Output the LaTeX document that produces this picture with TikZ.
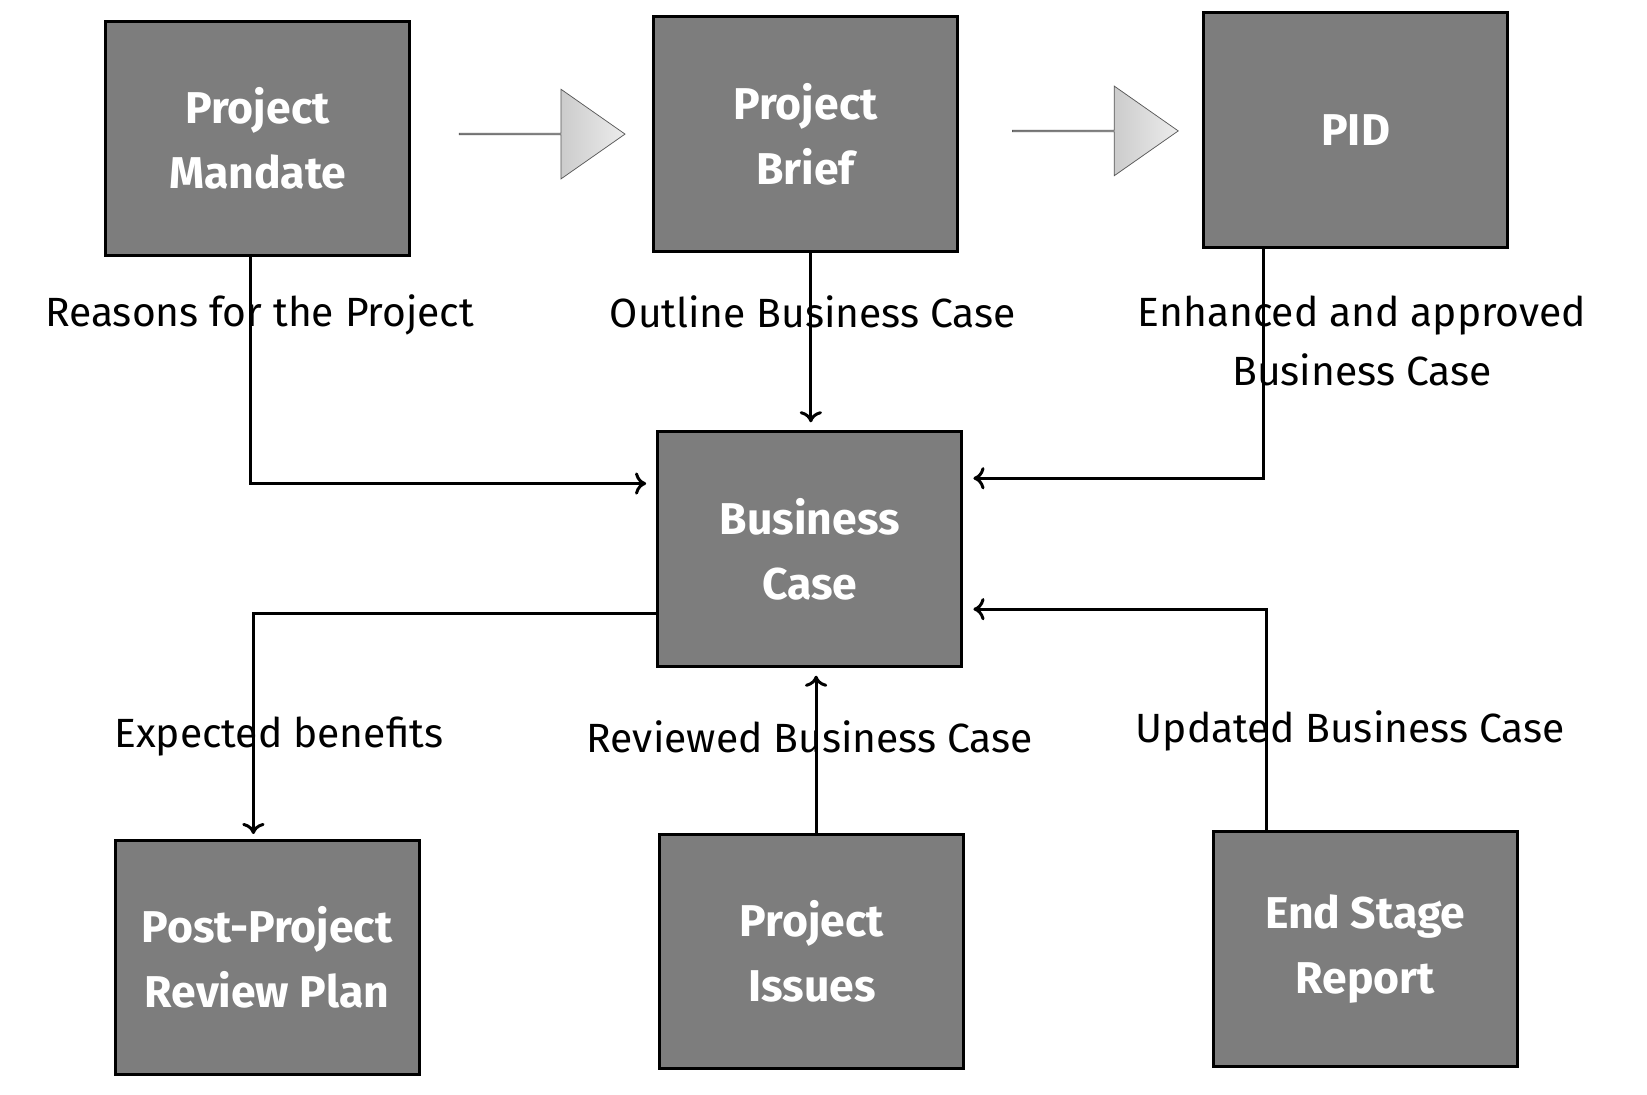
\documentclass[tikz,border=0pt]{standalone}
\usepackage{fontspec}
\setmainfont{Fira Sans}
\usetikzlibrary{positioning,arrows.meta,shapes.arrows}
\definecolor{boxgray}{RGB}{125,125,125}
\tikzset{
  docbox/.style={draw=black, line width=1.6pt, fill=boxgray, minimum width=5.76cm, minimum height=4.44cm,
    text=white, font=\fontsize{24}{35}\selectfont\bfseries, align=center},
  flowarrow/.style={single arrow, draw=gray!70!black, left color=gray!80, right color=gray!15,
    minimum height=3.14cm, minimum width=1.7cm, single arrow head extend=0.4cm, single arrow tip angle=70, inner sep=0pt},
  lbl/.style={font=\fontsize{22}{31.5}\selectfont, align=center, inner sep=0pt},
  link/.style={line width=1.6pt, -{To[length=6pt,width=12pt]}}
}
\begin{document}
\begin{tikzpicture}[x=0.02cm, y=-0.02cm]
  \useasboundingbox (0,0) rectangle (1560,1037);

  % boxes
  \node[docbox] (mandate) at (244,131) {Project\\Mandate};
  \node[docbox] (brief)   at (763,127) {Project\\Brief};
  \node[docbox] (pid)     at (1284,123) {PID};
  \node[docbox] (bcase)   at (767,520) {Business\\Case};
  \node[docbox] (review)  at (253,907) {Post-Project\\Review Plan};
  \node[docbox] (issues)  at (769,901) {Project\\Issues};
  \node[docbox] (endstage) at (1293,899) {End Stage\\Report};

  % block arrows
  \node[flowarrow] (arrA) at (513,127) {};
  \node[flowarrow] (arrB) at (1037,124) {};

  % connectors
  \coordinate (mTurn) at (237,458);
  \coordinate (bcIn1) at (612,458);
  \coordinate (bcIn2) at (922,453);
  \coordinate (pTurn) at (1197,453);
  \coordinate (bcIn3) at (922,577);
  \coordinate (eTurn) at (1200,577);
  \coordinate (bcOut) at (624,581);
  \coordinate (rTurn) at (240,581);
  \coordinate (rIn)   at (240,790);
  \draw[link] (mandate.south -| mTurn) -- (mTurn) -- (bcIn1);
  \draw[link] (brief.south -| 768,0) -- (768,400);
  \draw[link] (pid.south -| pTurn) -- (pTurn) -- (bcIn2);
  \draw[link] (bcOut) -- (rTurn) -- (rIn);
  \draw[link] (issues.north -| 773,0) -- (773,640);
  \draw[link] (endstage.north -| eTurn) -- (eTurn) -- (bcIn3);

  % labels
  \node[lbl] (lReasons) at (246,298) {Reasons for the Project};
  \node[lbl] (lOutline) at (770,295) {Outline Business Case};
  \node[lbl] (lEnhanced) at (1290,323) {Enhanced and approved\\Business Case};
  \node[lbl] (lExpected) at (264,698) {Expected benefits};
  \node[lbl] (lReviewed) at (767,698) {Reviewed Business Case};
  \node[lbl] (lUpdated) at (1279,692) {Updated Business Case};
\end{tikzpicture}
\end{document}
